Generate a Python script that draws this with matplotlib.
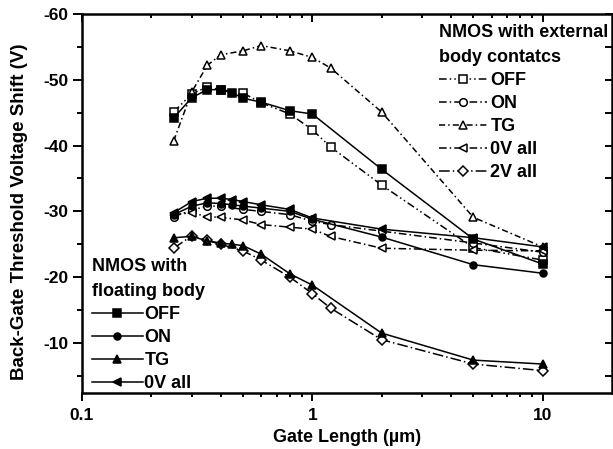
import matplotlib
matplotlib.use("Agg")
import matplotlib.pyplot as plt
from matplotlib.ticker import FixedLocator, NullFormatter, FixedFormatter

plt.rcParams['font.family'] = ['Liberation Sans', 'DejaVu Sans']
plt.rcParams['font.weight'] = 'bold'

# ---- data ----
x_ext = [0.25, 0.3, 0.35, 0.4, 0.5, 0.6, 0.8, 1.0, 1.2, 2, 5, 10]
x_flt = [0.25, 0.3, 0.35, 0.4, 0.45, 0.5, 0.6, 0.8, 1.0, 2, 5, 10]

ext_off = [-45.1, -47.9, -48.9, -48.5, -48.0, -46.5, -44.8, -42.4, -39.8, -34.0, -24.5, -22.6]
ext_on = [-29.2, -30.2, -30.8, -30.8, -30.3, -30.0, -29.5, -28.5, -28.0, -27.0, -25.2, -23.8]
ext_tg = [-40.7, -48.2, -52.2, -53.8, -54.4, -55.2, -54.4, -53.4, -51.8, -45.1, -29.1, -24.6]
ext_0v = [-29.5, -29.8, -29.2, -29.1, -28.7, -28.0, -27.6, -27.3, -26.2, -24.4, -24.1, -24.0]
ext_2v = [-24.4, -26.3, -25.6, -25.0, -24.0, -22.6, -20.0, -17.5, -15.3, -10.5, -6.8, -5.8]

flt_off = [-44.2, -47.3, -48.5, -48.5, -48.0, -47.2, -46.6, -45.3, -44.8, -36.4, -25.8, -22.0]
flt_on = [-29.5, -30.8, -31.3, -31.2, -31.0, -30.8, -30.5, -30.0, -28.8, -26.1, -21.9, -20.6]
flt_tg = [-26.0, -26.2, -25.5, -25.2, -25.0, -24.8, -23.5, -20.5, -18.8, -11.5, -7.4, -6.8]
flt_0v = [-29.8, -31.5, -32.0, -32.0, -31.8, -31.5, -31.0, -30.3, -29.0, -27.3, -26.0, -24.6]

ext_labels = ['OFF', 'ON', 'TG', '0V all', '2V all']
flt_labels = ['OFF', 'ON', 'TG', '0V all']
y_ticks = [-60, -50, -40, -30, -20, -10]
y_ticklabels = ['-60', '-50', '-40', '-30', '-20', '-10']
x_ticks = [0.1, 1, 10]
x_ticklabels = ['0.1', '1', '10']

fig = plt.figure(figsize=(6.13, 4.49), dpi=100)
ax = fig.add_axes([82/613, 1-393/449, (612-82)/613, (393-14)/449])

lw = 1.1
ms = 5.5
mew = 1.1
open_kw = dict(color='black', mfc='white', mec='black', ms=ms, mew=mew, lw=lw)
fill_kw = dict(color='black', mfc='black', mec='black', ms=ms, mew=mew, lw=lw, ls='-')

h_ext = []
h_ext += ax.plot(x_ext, ext_off, marker='s', ls=(0, (5, 2, 1, 2, 1, 2)), **open_kw)
h_ext += ax.plot(x_ext, ext_on, marker='o', ls=(0, (5, 2, 1, 2)), **open_kw)
h_ext += ax.plot(x_ext, ext_tg, marker='^', ls=(0, (4, 2, 1, 2)), **open_kw)
h_ext += ax.plot(x_ext, ext_0v, marker='<', ls=(0, (5, 2, 1, 2)), **open_kw)
h_ext += ax.plot(x_ext, ext_2v, marker='D', ls=(0, (7, 2, 1, 2)), **dict(open_kw, ms=5))

h_flt = []
h_flt += ax.plot(x_flt, flt_off, marker='s', **fill_kw)
h_flt += ax.plot(x_flt, flt_on, marker='o', **dict(fill_kw, ms=5))
h_flt += ax.plot(x_flt, flt_tg, marker='^', **fill_kw)
h_flt += ax.plot(x_flt, flt_0v, marker='<', **fill_kw)

ax.set_xscale('log')
ax.set_xlim(0.1, 20)
ax.set_ylim(-2.4, -60)

ax.xaxis.set_major_locator(FixedLocator(x_ticks))
ax.xaxis.set_major_formatter(FixedFormatter(x_ticklabels))
minor_x = [m * d for d in (0.1, 1, 10) for m in range(2, 10) if m * d < 20]
ax.xaxis.set_minor_locator(FixedLocator(minor_x))
ax.xaxis.set_minor_formatter(NullFormatter())
ax.yaxis.set_major_locator(FixedLocator(y_ticks))
ax.yaxis.set_major_formatter(FixedFormatter(y_ticklabels))
ax.yaxis.set_minor_locator(FixedLocator([-55, -45, -35, -25, -15, -5]))

for s in ax.spines.values():
    s.set_linewidth(1.8)

ax.tick_params(which='both', top=True, right=True, width=1.4, labelsize=12.5)
ax.tick_params(axis='x', which='major', length=5.5)
ax.tick_params(axis='x', which='minor', length=3)
ax.tick_params(axis='y', which='major', length=6.5)
ax.tick_params(axis='y', which='minor', length=3.5)
ax.tick_params(axis='x', which='both', direction='out', pad=5)
ax.tick_params(axis='y', which='both', direction='out', pad=3)
# top/right ticks point inward
for t in ax.xaxis.get_major_ticks() + ax.xaxis.get_minor_ticks():
    t.tick2line.set_marker(3)
for t in ax.yaxis.get_major_ticks() + ax.yaxis.get_minor_ticks():
    t.tick2line.set_marker(0)
    t.tick2line.set_markersize(5)

for lab in ax.get_xticklabels() + ax.get_yticklabels():
    lab.set_fontweight('bold')

fig.text(347/613, 1-438/449, 'Gate Length (µm)', fontsize=13, fontweight='bold',
         ha='center', va='center')
fig.text(20/613, 1-212/449, 'Back-Gate Threshold Voltage Shift (V)', fontsize=13.5,
         fontweight='bold', ha='center', va='center', rotation=90)

leg_kw = dict(loc='upper left', bbox_transform=fig.transFigure, frameon=False,
              fontsize=13, title_fontproperties={'size': 13, 'weight': 'bold'},
              alignment='left', labelspacing=0.34, borderpad=0, borderaxespad=0)

leg1 = ax.legend(h_ext, ext_labels, title='NMOS with external\nbody contatcs',
                 bbox_to_anchor=(439/613, 1-24/449),
                 handlelength=2.65, handletextpad=0.2, **leg_kw)
leg1.get_title().set_linespacing(1.6)
ax.add_artist(leg1)

leg2 = ax.legend(h_flt, flt_labels, title='NMOS with\nfloating body',
                 bbox_to_anchor=(92/613, 1-258/449),
                 handlelength=2.8, handletextpad=0.1, **leg_kw)
leg2.get_title().set_linespacing(1.6)

fig.savefig('out.png', dpi=100)
